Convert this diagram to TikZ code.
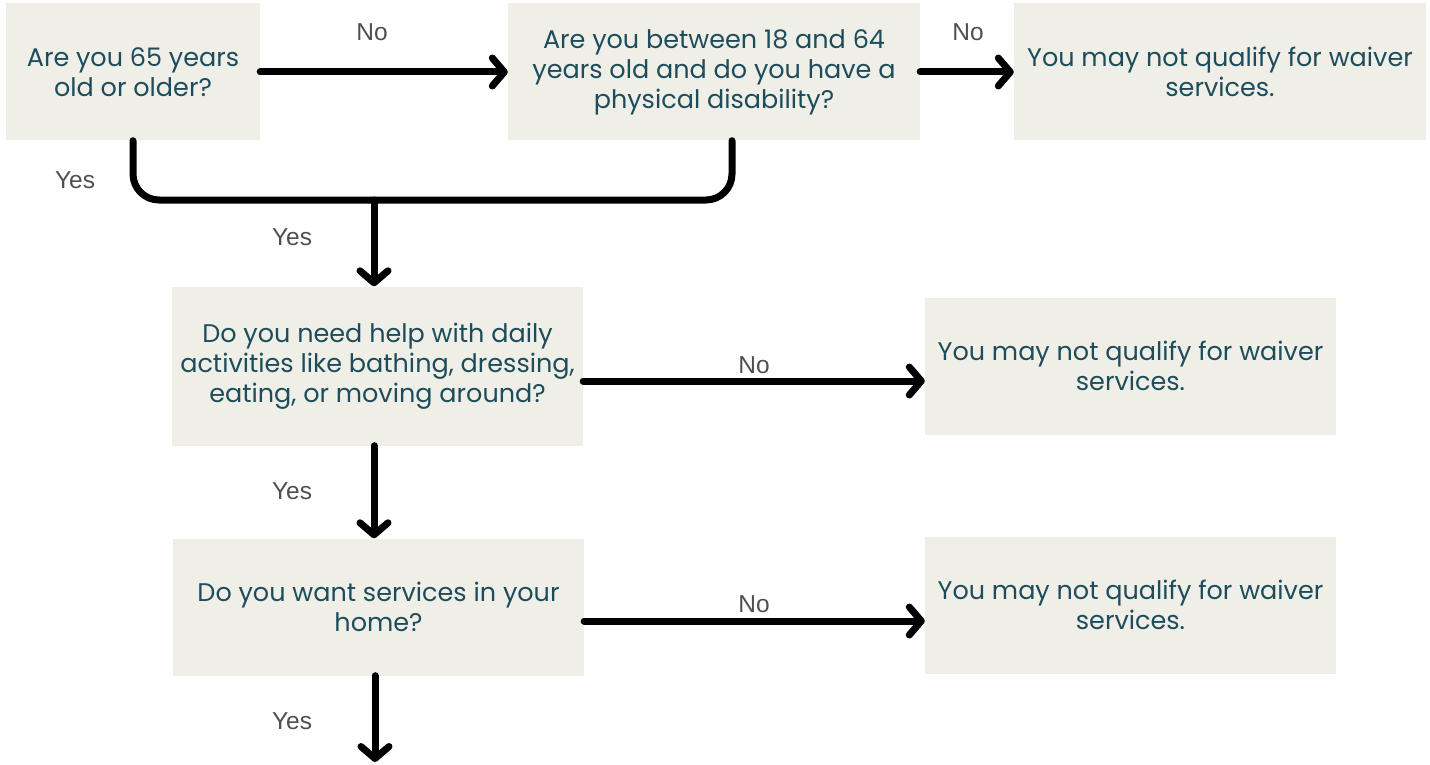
\documentclass[tikz,border=0pt]{standalone}
\usepackage{fontspec}
\setmainfont{Poppins}
\newfontfamily\labelfont{Liberation Sans}
\usetikzlibrary{arrows.meta}
\definecolor{boxfill}{HTML}{F0EFE7}
\definecolor{boxtext}{HTML}{1D4D5C}
\definecolor{lblgray}{HTML}{4F4F4F}

\begin{document}
\begin{tikzpicture}[
			     x=1pt, y=-1pt,
			     box/.style={fill=boxfill, text=boxtext, align=center, inner sep=0pt,
			                 font=\fontsize{25.5}{30}\selectfont},
			     flow/.style={line width=7pt, line cap=round},
			     tip/.style={-{Straight Barb[length=12pt,width=28pt,round]}},
			     lbl/.style={text=lblgray, font=\labelfont\fontsize{24.5}{28}\selectfont}
			     ]
\useasboundingbox (0,0) rectangle (1430,765);
% questions and outcomes
\node[box, minimum width=254pt, minimum height=137pt] (age) at (133,72) {Are you 65 years\\old or older?};
\node[box, minimum width=412pt, minimum height=137pt] (disab) at (714,72) {Are you between 18 and 64\\years old and do you have a\\physical disability?};
\node[box, minimum width=412pt, minimum height=137pt] (noA) at (1220,72) {You may not qualify for waiver\\services.};
\node[box, minimum width=411pt, minimum height=159pt] (daily) at (377.5,366) {Do you need help with daily\\activities like bathing, dressing,\\eating, or moving around?};
\node[box, minimum width=411pt, minimum height=137pt] (noB) at (1130.5,366) {You may not qualify for waiver\\services.};
\node[box, minimum width=411pt, minimum height=137pt] (home) at (378.5,607) {Do you want services in your\\home?};
\node[box, minimum width=411pt, minimum height=137pt] (noC) at (1130.5,605) {You may not qualify for waiver\\services.};
\coordinate (join) at (374,200);
\coordinate (down) at (375,762);
% connectors
\draw[flow, tip] (age.east |- 0,72) -- (disab.west |- 0,72);
\draw[flow, tip] (disab.east |- 0,72) -- (noA.west |- 0,72);
\draw[flow, rounded corners=26pt] (age.south) |- (join) -| ([xshift=18pt]disab.south);
\draw[flow, tip] (join) -- (join |- daily.north);
\draw[flow, tip] (daily.east |- 0,381) -- (noB.west |- 0,381);
\draw[flow, tip] ([xshift=-3.5pt]daily.south) -- ([xshift=-3.5pt]daily.south |- home.north);
\draw[flow, tip] (home.east |- 0,621) -- (noC.west |- 0,621);
\draw[flow, tip] (home.south -| down) -- (down);
% branch labels
\node[lbl] (no1) at (372,32) {No};
\node[lbl] (no2) at (968,32) {No};
\node[lbl] (yes1) at (75,180) {Yes};
\node[lbl] (yes2) at (292,237) {Yes};
\node[lbl] (no3) at (754,365) {No};
\node[lbl] (yes3) at (292,491) {Yes};
\node[lbl] (no4) at (754,604) {No};
\node[lbl] (yes4) at (292,721) {Yes};
\end{tikzpicture}
\end{document}
